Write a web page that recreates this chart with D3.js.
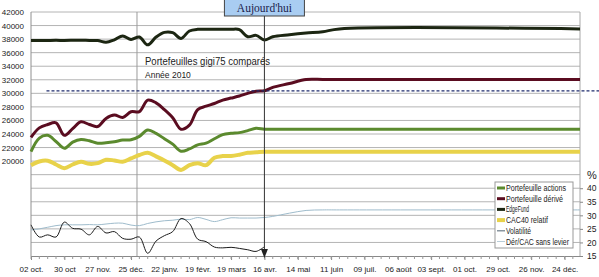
<!DOCTYPE html>
<html>
<head>
<meta charset="utf-8">
<script src="https://cdn.jsdelivr.net/npm/d3@7"></script>
<style>
  body { margin: 0; background: #fff; }
  svg { display: block; font-family: "Liberation Sans", Arial, sans-serif; }
</style>
</head>
<body>
<div class="canvas"></div>
<script>
const width = 599;
const height = 277;

// weekly observations, 02 oct. 2009 -> 16 avr. 2010
const weeks = [
  "2009-10-02", "2009-10-09", "2009-10-16", "2009-10-23", "2009-10-30", "2009-11-06",
  "2009-11-13", "2009-11-20", "2009-11-27", "2009-12-04", "2009-12-11", "2009-12-18",
  "2009-12-25", "2010-01-01", "2010-01-08", "2010-01-15", "2010-01-22", "2010-01-29",
  "2010-02-05", "2010-02-12", "2010-02-19", "2010-02-26", "2010-03-05", "2010-03-12",
  "2010-03-19", "2010-03-26", "2010-04-02", "2010-04-09", "2010-04-16"
];
const actions = [21400, 23400, 23800, 22900, 21900, 22800, 23200, 23000, 22650, 22700, 22850, 23100, 23150, 23650,
  24600, 24100, 23300, 22500, 21450, 21800, 22400, 22650, 23300, 23900, 24100, 24200, 24500, 24850, 24700];
const derive = [23500, 24900, 25400, 25650, 23800, 24800, 25800, 25400, 25100, 26300, 26800, 26450, 27280, 27300,
  29000, 28600, 27600, 26400, 24700, 25300, 27600, 28100, 28500, 29000, 29300, 29600, 30000, 30300, 30380];
const edgeFund = [37800, 37780, 37800, 37820, 37800, 37820, 37850, 37800, 37780, 37530, 37900, 38460, 37950, 38300,
  37150, 38300, 39000, 38950, 38100, 39200, 39450, 39450, 39450, 39450, 39450, 39400, 38350, 38550, 37870];
const cac40 = [19400, 19950, 20050, 19500, 18950, 19500, 19900, 19600, 19700, 20200, 20100, 19900, 20400, 20900,
  21230, 20700, 20100, 19400, 18700, 19400, 19700, 19400, 20500, 20750, 20750, 20950, 21230, 21300, 21380];
const volatilite = [26.5, 22, 22.8, 22, 27.5, 25.2, 24.9, 22.8, 25.9, 23.5, 24, 21.5, 21.2, 22, 16, 20.5, 22.5, 24,
  28.8, 27, 21.2, 20.3, 18.3, 18, 18.2, 17.8, 17.3, 16.7, 18.4];
const derCac = [24.6, 25, 25.6, 26.2, 26.5, 26.5, 26.5, 26.6, 26.5, 26.8, 27.1, 27.1, 26.4, 26.2, 27.0, 27.6, 28.0,
  28.2, 28.6, 28.4, 29.2, 28.5, 27.7, 28.4, 29.1, 29.0, 29.0, 29.0, 29.2];

// projection after "Aujourd'hui"
const projDates = ["2010-04-16", "2010-04-23", "2010-05-07", "2010-05-21", "2010-06-04", "2010-06-18", "2011-01-06"];
const actionsProj = [24700, 24700, 24700, 24700, 24700, 24700, 24700];
const deriveProj = [30380, 30880, 31450, 32050, 32050, 32050, 32050];
const edgeFundProj = [37870, 38350, 38650, 38900, 39100, 39500, 39500];
const cac40Proj = [21380, 21380, 21380, 21380, 21380, 21380, 21380];
const derCacProj = [29.2, 29.6, 30.8, 31.8, 32, 32, 32];

const today = "2010-04-16";
const yearMark = "2009-12-30";
const seuil = 30350;
const seuilStart = "2009-10-15";

const xStart = "2009-10-02";
const xEnd = "2011-01-06";
const tickLabels = ["02 oct.", "30 oct", "27 nov.", "25 déc.", "22 janv.", "19 févr.", "19 mars", "16 avr.",
  "14 mai", "11 juin", "09 juil.", "06 août", "03 sept.", "01 oct.", "29 oct.", "26 nov.", "24 déc."];
const leftTicks = d3.range(20000, 42001, 2000);
const rightTicks = [15, 20, 25, 30, 35, 40];

const parse = d3.utcParse("%Y-%m-%d");

// Scales
const x = d3.scaleUtc().domain([parse(xStart), parse(xEnd)]).range([31, 580]);
const yLeft = d3.scaleLinear().domain([6000, 42000]).range([256, 12]);
const yRight = d3.scaleLinear().domain([15, 105]).range([256, 12]);

const svg = d3.select(".canvas").append("svg")
  .attr("width", width)
  .attr("height", height);

// gridlines
svg.append("g")
  .selectAll("line")
  .data(d3.range(8000, 42001, 2000))
  .enter().append("line")
  .attr("x1", 31).attr("x2", 580)
  .attr("y1", d => yLeft(d)).attr("y2", d => yLeft(d))
  .attr("stroke", "#b4b4b4").attr("stroke-width", 1);

// plot border + year marker
svg.append("line").attr("x1", 580).attr("x2", 580).attr("y1", 12).attr("y2", 256).attr("stroke", "#a8a8a8");
svg.append("line").attr("x1", 31).attr("x2", 31).attr("y1", 12).attr("y2", 256).attr("stroke", "#909090");
svg.append("line")
  .attr("x1", x(parse(yearMark))).attr("x2", x(parse(yearMark)))
  .attr("y1", 12).attr("y2", 256)
  .attr("stroke", "#9a9a9a");

// Left axis labels
svg.append("g")
  .selectAll("text")
  .data(leftTicks)
  .enter().append("text")
  .attr("x", 24).attr("y", d => yLeft(d) + 3)
  .attr("text-anchor", "end")
  .attr("font-size", 8)
  .attr("fill", "#222")
  .text(d => d);

// Right axis
const rightAxis = d3.axisRight(yRight).tickValues(rightTicks).tickSize(3).tickPadding(4);
const gr = svg.append("g").attr("transform", "translate(580,0)").call(rightAxis);
gr.select(".domain").remove();
gr.selectAll("line").attr("stroke", "#888");
gr.selectAll("text").attr("font-size", 8.5).attr("fill", "#222").attr("font-family", "Liberation Sans, Arial");
svg.append("text").attr("x", 587).attr("y", yRight(45) + 4)
  .attr("font-size", 11).attr("fill", "#222").text("%");

// Bottom axis
const majorDates = tickLabels.map((d, i) => d3.utcDay.offset(parse(xStart), 28 * i));
const minorDates = d3.range(0, 462, 7).map(i => d3.utcDay.offset(parse(xStart), i));
const xAxis = d3.axisBottom(x).tickValues(majorDates).tickSize(4).tickPadding(6)
  .tickFormat((d, i) => tickLabels[i]);
const gx = svg.append("g").attr("transform", "translate(0,256)").call(xAxis);
gx.select(".domain").attr("stroke", "#888").attr("d", "M31,0.5H580");
gx.selectAll("line").attr("stroke", "#888");
gx.selectAll("text").attr("font-size", 8).attr("fill", "#222").attr("font-family", "Liberation Sans, Arial");
svg.append("g")
  .selectAll("line")
  .data(minorDates)
  .enter().append("line")
  .attr("x1", d => x(d)).attr("x2", d => x(d))
  .attr("y1", 256).attr("y2", 259)
  .attr("stroke", "#999");

// Series
const series = [
  { name: "Dér/CAC sans levier", color: "#9fbccc", width: 1, scale: yRight, hist: derCac, proj: derCacProj },
  { name: "Volatilité", color: "#1a1a1a", width: 1, scale: yRight, hist: volatilite, proj: null },
  { name: "CAC40 relatif", color: "#e8d24a", width: 4, scale: yLeft, hist: cac40, proj: cac40Proj },
  { name: "Portefeuille actions", color: "#5b8a2e", width: 3, scale: yLeft, hist: actions, proj: actionsProj },
  { name: "Portefeuille dérivé", color: "#5a0c20", width: 3, scale: yLeft, hist: derive, proj: deriveProj },
  { name: "EdgeFund", color: "#1c2612", width: 3, scale: yLeft, hist: edgeFund, proj: edgeFundProj }
];

series.forEach(s => {
  let pts = weeks.map((d, i) => ({ date: parse(d), v: s.hist[i] }));
  if (s.proj) {
    pts = pts.concat(projDates.slice(1).map((d, i) => ({ date: parse(d), v: s.proj[i + 1] })));
  }
  const line = d3.line()
    .x(d => x(d.date))
    .y(d => s.scale(d.v))
    .curve(d3.curveCatmullRom.alpha(0.5));
  svg.append("path")
    .datum(pts)
    .attr("fill", "none")
    .attr("stroke", s.color)
    .attr("stroke-width", s.width)
    .attr("stroke-linejoin", "round")
    .attr("d", line);
});

// dashed reference line
svg.append("line")
  .attr("x1", x(parse(seuilStart))).attr("x2", width)
  .attr("y1", yLeft(seuil)).attr("y2", yLeft(seuil))
  .attr("stroke", "#1f2d6e").attr("stroke-width", 1.2)
  .attr("stroke-dasharray", "3,2");

// titles
svg.append("text").attr("x", 145).attr("y", 65)
  .attr("font-size", 10.5).attr("fill", "#222")
  .attr("textLength", 125).attr("lengthAdjust", "spacingAndGlyphs")
  .text("Portefeuilles gigi75 comparés");
svg.append("text").attr("x", 145).attr("y", 77.5)
  .attr("font-size", 8.5).attr("fill", "#222")
  .text("Année 2010");

// Aujourd'hui marker
const tx = x(parse(today));
svg.append("line")
  .attr("x1", tx).attr("x2", tx).attr("y1", 16).attr("y2", 250)
  .attr("stroke", "#333").attr("stroke-width", 1);
svg.append("path")
  .attr("d", `M${tx - 3.5},249L${tx + 3.5},249L${tx},258Z`)
  .attr("fill", "#222");
svg.append("rect")
  .attr("x", tx - 40).attr("y", -1).attr("width", 80).attr("height", 17)
  .attr("fill", "#a9cdf2").attr("stroke", "#444");
svg.append("text")
  .attr("x", tx).attr("y", 12)
  .attr("text-anchor", "middle")
  .attr("font-family", "Liberation Serif, Times New Roman, serif")
  .attr("font-size", 11.5).attr("fill", "#1b1b4b")
  .text("Aujourd'hui");

// Legend
const legendOrder = [
  { name: "Portefeuille actions", color: "#5b8a2e", width: 3, len: 60 },
  { name: "Portefeuille dérivé", color: "#5a0c20", width: 3, len: 57 },
  { name: "EdgeFund", color: "#1c2612", width: 3, len: 23 },
  { name: "CAC40 relatif", color: "#e8d24a", width: 4, len: 42 },
  { name: "Volatilité", color: "#6d7c88", width: 1.2, len: 25 },
  { name: "Dér/CAC sans levier", color: "#b9cdd8", width: 1, len: 63 }
];
const legend = svg.append("g").attr("transform", "translate(495,182)");
legend.append("rect").attr("width", 78).attr("height", 66)
  .attr("fill", "#fff").attr("stroke", "#999");
const items = legend.selectAll("g.item")
  .data(legendOrder)
  .enter().append("g")
  .attr("class", "item")
  .attr("transform", (d, i) => `translate(0,${6 + i * 10.7})`);
items.append("line")
  .attr("x1", 2).attr("x2", 10).attr("y1", 0).attr("y2", 0)
  .attr("stroke", d => d.color).attr("stroke-width", d => d.width);
items.append("text")
  .attr("x", 11).attr("y", 3)
  .attr("font-size", 8.5).attr("fill", "#222")
  .attr("textLength", d => d.len).attr("lengthAdjust", "spacingAndGlyphs")
  .text(d => d.name);
</script>
</body>
</html>
